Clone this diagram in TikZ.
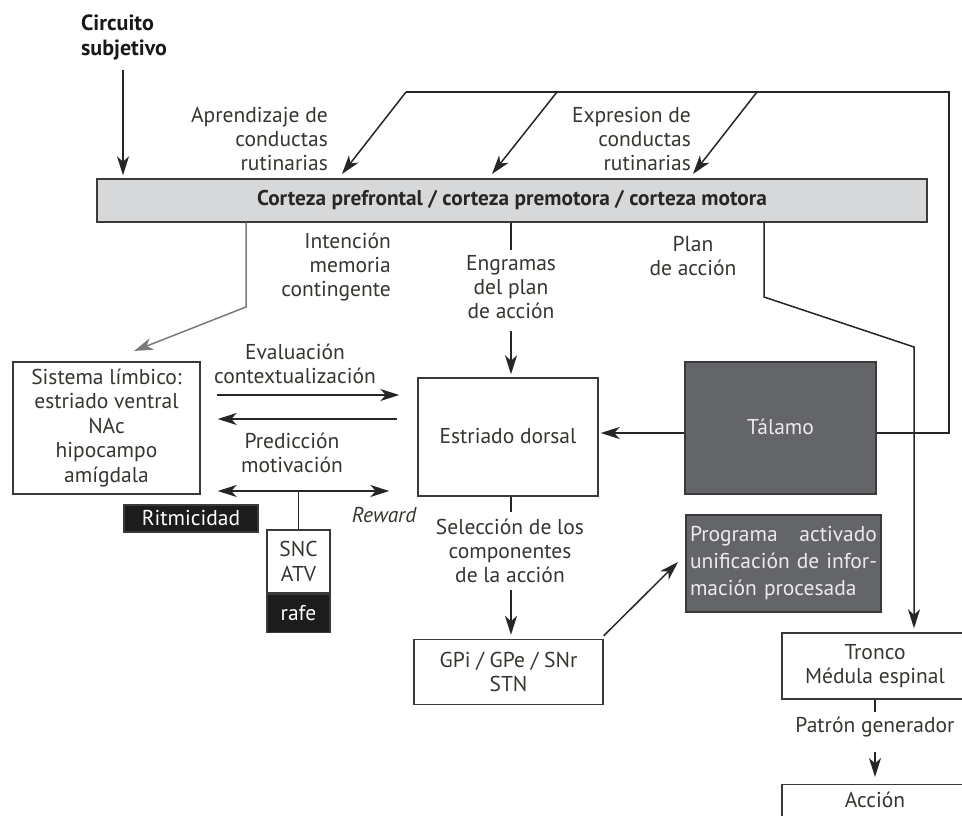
\documentclass[tikz,border=0pt]{standalone}
\usepackage{fontspec}
\setmainfont{PT Sans}
\usetikzlibrary{arrows.meta}

\definecolor{txt}{HTML}{37352F}
\definecolor{edge}{HTML}{3A3A3A}
\definecolor{cortexfill}{HTML}{D7D8DA}
\definecolor{darkfill}{HTML}{646568}
\definecolor{blackfill}{HTML}{1C1C1C}
\definecolor{grayline}{HTML}{7A7A7A}

\tikzset{
  headtip/.tip={Stealth[length=19pt, width=12pt, inset=5.5pt]},
  box/.style={draw=edge, line width=1.4pt, inner sep=0pt, align=center,
    text=txt, font=\fontsize{21.5}{24.5}\selectfont},
  darkbox/.style={box, fill=darkfill, text=white!92!black},
  blackbox/.style={box, fill=blackfill, text=white},
  lbl/.style={inner sep=0pt, text=txt, font=\fontsize{21.5}{24}\selectfont},
  conn/.style={draw=black!85, line width=1.5pt},
  arr/.style={conn, -{headtip}},
  grayarr/.style={draw=grayline, line width=1.5pt, -{headtip}},
}

\begin{document}
\begin{tikzpicture}[x=1pt, y=-1pt]
\clip (0,0) rectangle (962,816);
\fill[white] (0,0) rectangle (962,816);

% ---------- boxes ----------
\node[box, fill=cortexfill, minimum width=830pt, minimum height=43pt,
  font=\fontsize{21.3}{22}\selectfont\bfseries, text=black!85]
  (cortex) at (512,200.5) {Corteza prefrontal / corteza premotora / corteza motora};

\node[box, minimum width=187pt, minimum height=132pt] (limbic) at (106.5,428)
  {Sistema límbico:\\estriado ventral\\NAc\\hipocampo\\amígdala};

\node[box, minimum width=180pt, minimum height=118pt] (estr) at (508,437)
  {\raisebox{3pt}{Estriado dorsal}};

\node[darkbox, minimum width=191pt, minimum height=132pt] (talamo) at (780.5,428)
  {\raisebox{3pt}{Tálamo}};

\node[darkbox, minimum width=195pt, minimum height=97pt, align=left,
  text width=187pt, font=\fontsize{21.5}{27}\selectfont] (prog) at (783.5,563.5)
  {Programa\hfill activado\\unificación\hfill de\hfill infor-\\mación procesada};

\node[blackbox, minimum width=134pt, minimum height=27pt] (ritmo) at (191,518.5)
  {Ritmicidad};

\node[box, minimum width=63pt, minimum height=63pt] (snc) at (298.5,561.5)
  {SNC\\ATV};
\node[blackbox, minimum width=63pt, minimum height=38pt, anchor=north] (rafe)
  at (snc.south) {rafe};

\node[box, minimum width=189pt, minimum height=65pt] (gpi) at (508.5,672)
  {GPi / GPe / SNr\\STN};

\node[box, minimum width=186pt, minimum height=66pt] (tronco) at (875,666)
  {Tronco\\Médula espinal};

\node[box, minimum width=186pt, minimum height=66pt, anchor=north] (accion)
  at (875,784) {};
\node[lbl] (acciontxt) at (875,800) {Acción};

% ---------- labels ----------
\node[lbl, align=left, anchor=west, font=\fontsize{22}{25}\selectfont\bfseries,
  text=black!90] (circ) at (81,37.5) {Circuito\\subjetivo};
\node[lbl, align=right, anchor=east] (aprend) at (328,139)
  {Aprendizaje de\\conductas\\rutinarias};
\node[lbl, align=right, anchor=east] (expr) at (691,139)
  {Expresion de\\conductas\\rutinarias};
\node[lbl, align=right, anchor=east] (intenc) at (391,267)
  {Intención\\memoria\\contingente};
\node[lbl, align=center] (engr) at (511,287)
  {Engramas\\del plan\\de acción};
\node[lbl, align=center] (plan) at (693,256) {Plan\\de acción};
\node[lbl, align=center] (evalu) at (295,364) {Evaluación\\contextualización};
\node[lbl, align=center] (predic) at (292,453) {Predicción\\motivación};
\node[lbl, font=\fontsize{21.5}{24}\selectfont\itshape] (reward) at (384,515) {Reward};
\node[lbl, align=center] (selec) at (510,551)
  {Selección de los\\componentes\\de la acción};
\node[lbl] (patron) at (875,727) {Patrón generador};

% ---------- helper coordinates ----------
\coordinate (lvl) at (0,433);
\coordinate (fbA) at (406,92);
\coordinate (fbB) at (557,92);
\coordinate (fbC) at (757,92);
\coordinate (fbR) at (949,92);
\coordinate (tipA) at (342,174);
\coordinate (tipB) at (492,174);
\coordinate (tipC) at (693,174);
\coordinate (grayknee) at (246,307);
\coordinate (graytip) at (134,351);
\coordinate (planknee) at (764,297);
\coordinate (planknee2) at (914,347);
\coordinate (progtip) at (678,562);

% ---------- connectors ----------
% subjective circuit into the cortex
\draw[arr, shorten >=3pt] (circ.south -| 123,0) ++(0,10) -- (123,0 |- cortex.north);

% thalamic loop back to the cortex
\draw[conn, line join=miter] (talamo.east |- lvl) -- (fbR |- lvl) -- (fbR) -- (fbA);
\draw[arr] (fbA) -- (tipA);
\draw[arr] (fbB) -- (tipB);
\draw[arr] (fbC) -- (tipC);

% cortex to limbic system
\draw[grayarr] (grayknee |- cortex.south) -- (grayknee) -- (graytip);

% cortex to dorsal striatum
\draw[conn] (511,0 |- cortex.south) -- (511,250);
\draw[arr, shorten >=3pt] (511,0 |- engr.south) ++(0,12) -- (511,0 |- estr.north);

% plan of action down to the brainstem
\draw[arr, shorten >=4pt] (planknee |- cortex.south) -- (planknee) -- (planknee2)
  -- (planknee2 |- tronco.north);

% limbic system <-> dorsal striatum
\draw[arr, shorten <=16pt, shorten >=18pt] (limbic.east |- 0,395) -- (estr.west |- 0,395);
\draw[arr, shorten <=20pt, shorten >=17pt] (estr.west |- 0,419) -- (limbic.east |- 0,419);
\draw[conn, {headtip}-{headtip}, shorten <=17pt, shorten >=28pt]
  (limbic.east |- 0,491) -- (estr.west |- 0,491);
\draw[conn] (snc.north |- 0,491) -- (snc.north);

% thalamus to dorsal striatum
\draw[arr, shorten >=2pt] (talamo.west |- lvl) -- (estr.east |- lvl);

% dorsal striatum to pallidum
\draw[conn] (511,0 |- estr.south) -- (511,512);
\draw[arr, shorten >=4pt] (511,590) -- (511,0 |- gpi.north);

% pallidum to activated programme
\draw[arr] (gpi.north east) ++(0,-3) -- (progtip);

% brainstem to action
\draw[conn] (tronco.south) -- (875,712);
\draw[arr, shorten >=7pt] (875,752) -- (accion.north);
\end{tikzpicture}
\end{document}
